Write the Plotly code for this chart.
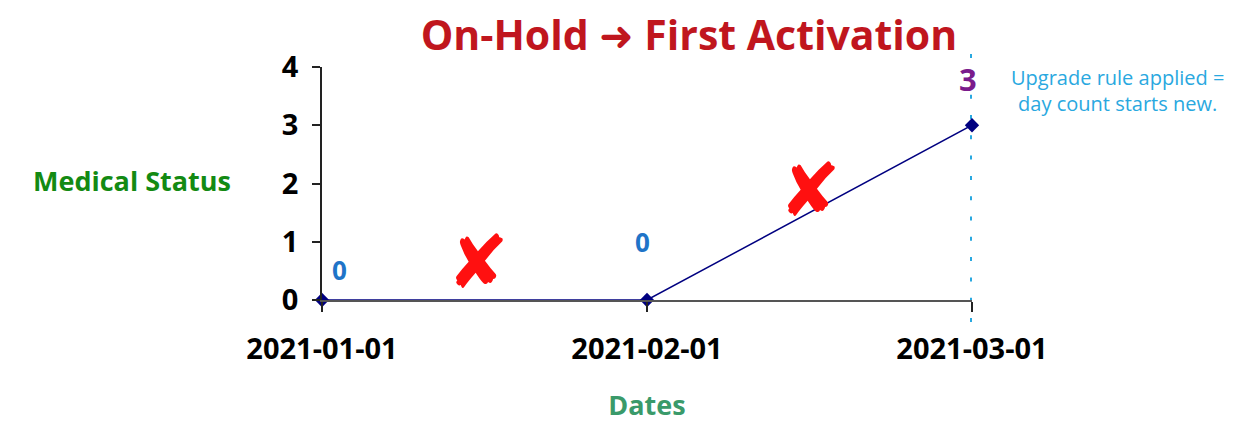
import plotly.graph_objects as go

dates = ["2021-01-01", "2021-02-01", "2021-03-01"]
status = [0, 0, 3]
label_colors = ["#1f74c8", "#1f74c8", "#7b1b8c"]
label_sizes = [26, 26, 31]
label_shift = [(17, 30), (-5, 58), (-4, 46)]
cross_pos = [(0.48, 0.65), (1.5, 1.89)]
note_text = "Upgrade rule applied =<br>day count starts new."
title_text = "On-Hold <span style='font-family:DejaVu Sans'>\u279c</span> First Activation"

fig = go.Figure()
fig.add_trace(go.Scatter(
    x=dates, y=status, mode="lines+markers",
    line=dict(color="#000080", width=1.5),
    marker=dict(symbol="diamond", size=11, color="#000080"),
    cliponaxis=False, showlegend=False, hoverinfo="x+y",
))

# dotted vertical marker line
fig.add_shape(type="line", xref="x", yref="paper", x0=dates[2], x1=dates[2],
              y0=-0.0944, y1=1.0558, layer="below",
              line=dict(color="#29a8e0", width=4, dash="4px,16.3px"))

# value labels
for d, v, c, s, (dx, dy) in zip(dates, status, label_colors, label_sizes, label_shift):
    fig.add_annotation(x=d, y=v, text=f"<b>{v}</b>", showarrow=False,
                       xshift=dx, yshift=dy,
                       font=dict(family="Open Sans", size=s, color=c))

# red crosses
for cx, cy in cross_pos:
    fig.add_annotation(x=cx, y=cy, text="\u2718", showarrow=False,
                       font=dict(family="DejaVu Sans", size=74, color="#ff1010"))

# side note
fig.add_annotation(xref="paper", yref="paper", x=1.2246, y=0.901, text=note_text,
                   showarrow=False, align="center", xanchor="center", yanchor="middle",
                   font=dict(family="Open Sans", size=20, color="#29a8e0"))

# y title (horizontal)
fig.add_annotation(xref="paper", yref="paper", x=-0.2923, y=0.515,
                   text="<b>Medical Status</b>", showarrow=False,
                   xanchor="center", yanchor="middle",
                   font=dict(family="Open Sans", size=27, color="#138a13"))

fig.update_layout(
    width=1258, height=425,
    margin=dict(l=314, r=294, t=59, b=133),
    paper_bgcolor="white", plot_bgcolor="white",
    title=dict(text=f"<b>{title_text}</b>", x=0.5413, xanchor="center",
               y=0.936, yanchor="middle",
               font=dict(family="Open Sans", size=41, color="#c0161e")),
    xaxis=dict(type="category", range=[0, 2], showgrid=False, zeroline=False,
               showline=True, linecolor="#555555", linewidth=2,
               ticks="outside", ticklen=10, tickcolor="#222222", tickwidth=1.5,
               ticklabelstandoff=12,
               tickfont=dict(family="Open Sans", size=29, color="black", weight="bold"),
               title=dict(text="<b>Dates</b>", standoff=30,
                          font=dict(family="Open Sans", size=27, color="#3a9a6a"))),
    yaxis=dict(range=[0, 4], dtick=1, showgrid=False, zeroline=False,
               showline=True, linecolor="#222222", linewidth=1.5,
               ticks="outside", ticklen=8, tickcolor="#222222", tickwidth=1.5,
               ticklabelstandoff=8,
               tickfont=dict(family="Open Sans", size=29, color="black", weight="bold")),
)

fig.write_html("out.html")
